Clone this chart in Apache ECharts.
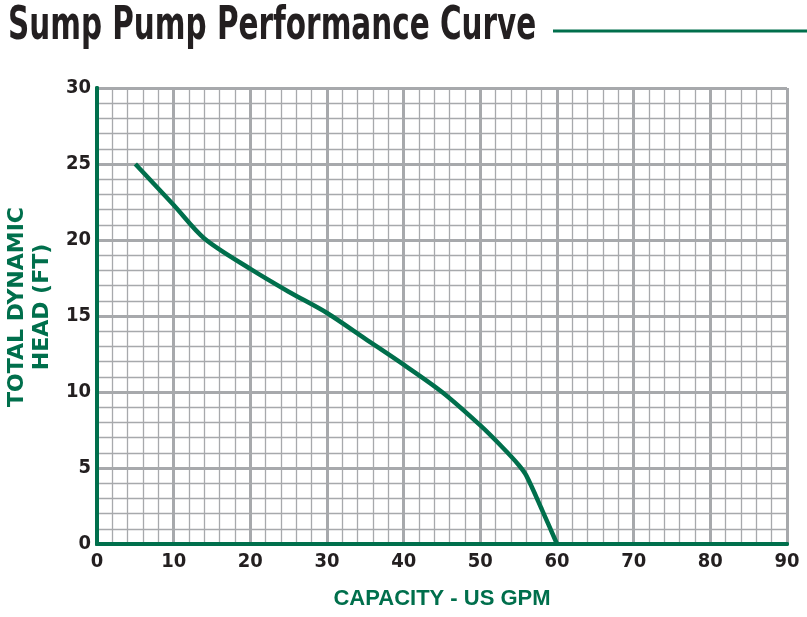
<!DOCTYPE html>
<html>
<head>
<meta charset="utf-8">
<script src="https://cdn.jsdelivr.net/npm/echarts@6/dist/echarts.min.js"></script>
<style>html,body{margin:0;padding:0;background:#fff;}#c{width:807px;height:617px;}</style>
</head>
<body>
<div id="c"></div>
<script>
var titleText = 'Sump Pump Performance Curve';
var xName = 'CAPACITY - US GPM';
var yName = 'TOTAL DYNAMIC\nHEAD (FT)';
var capacity = [5, 10, 14, 20, 25, 30, 35, 40, 45, 50, 53, 55, 56, 58, 60];
var head = [25, 22.3, 20.1, 18.1, 16.6, 15.2, 13.5, 11.8, 10.0, 7.8, 6.3, 5.2, 4.5, 2.3, 0];
var xMin = 0, xMax = 90, xStep = 10;
var yMin = 0, yMax = 30, yStep = 5;

var green = '#006F4C';
var gridGray = '#A7A9AC';
var curve = capacity.map(function (c, i) { return [c, head[i]]; });

var chart = echarts.init(document.getElementById('c'));
var condFont = '"Liberation Sans Narrow", "DejaVu Sans Condensed", sans-serif';
var labelFont = {fontFamily: condFont, fontWeight: 'bold', fontSize: 20, color: '#231F20'};
chart.setOption({
  animation: false,
  backgroundColor: '#fff',
  grid: {left: 97, right: 20, top: 88, bottom: 73, outerBoundsMode: 'none', containLabel: false},
  graphic: [
    {type: 'text', x: 8, y: 4, scaleX: 0.78, scaleY: 1.1,
     style: {text: titleText, fontFamily: condFont, fontWeight: 'bold', fontSize: 42, fill: '#231F20'}},
    {type: 'line', shape: {x1: 553, y1: 31, x2: 807, y2: 31}, style: {stroke: green, lineWidth: 3}},
    {type: 'text', x: 30, y: 307, rotation: Math.PI / 2,
     style: {text: yName, fontFamily: '"DejaVu Sans", sans-serif', fontWeight: 'bold', fontSize: 22, lineHeight: 25,
             fill: green, align: 'center', verticalAlign: 'middle'}}
  ],
  xAxis: [{
    type: 'value', min: xMin, max: xMax, interval: xStep, position: 'bottom',
    name: xName, nameLocation: 'middle', nameGap: 44,
    nameTextStyle: {fontFamily: '"Liberation Sans", Arial, sans-serif', fontWeight: 'bold', fontSize: 22, color: green},
    axisLine: {show: true, lineStyle: {color: green, width: 4}},
    axisTick: {show: false},
    axisLabel: Object.assign({margin: 8}, labelFont),
    splitLine: {show: true, lineStyle: {color: gridGray, width: 3}},
    minorTick: {show: false, splitNumber: 5},
    minorSplitLine: {show: true, lineStyle: {color: gridGray, width: 1.3}}
  }, {
    type: 'value', min: xMin, max: xMax, interval: xStep, position: 'top',
    axisLine: {show: true, lineStyle: {color: green, width: 4}},
    axisTick: {show: false}, axisLabel: {show: false}, splitLine: {show: false}
  }],
  yAxis: [{
    type: 'value', min: yMin, max: yMax, interval: yStep, position: 'left',
    axisLine: {show: true, lineStyle: {color: green, width: 4}},
    axisTick: {show: false},
    axisLabel: Object.assign({margin: 6}, labelFont),
    splitLine: {show: true, lineStyle: {color: gridGray, width: 3}},
    minorTick: {show: false, splitNumber: 5},
    minorSplitLine: {show: true, lineStyle: {color: gridGray, width: 1.3}}
  }, {
    type: 'value', min: yMin, max: yMax, interval: yStep, position: 'right',
    axisLine: {show: true, lineStyle: {color: green, width: 4}},
    axisTick: {show: false}, axisLabel: {show: false}, splitLine: {show: false}
  }],
  series: [{
    type: 'line', data: curve, smooth: 0.3, symbol: 'none', z: 5,
    lineStyle: {color: green, width: 4.5}
  }]
});
</script>
</body>
</html>
